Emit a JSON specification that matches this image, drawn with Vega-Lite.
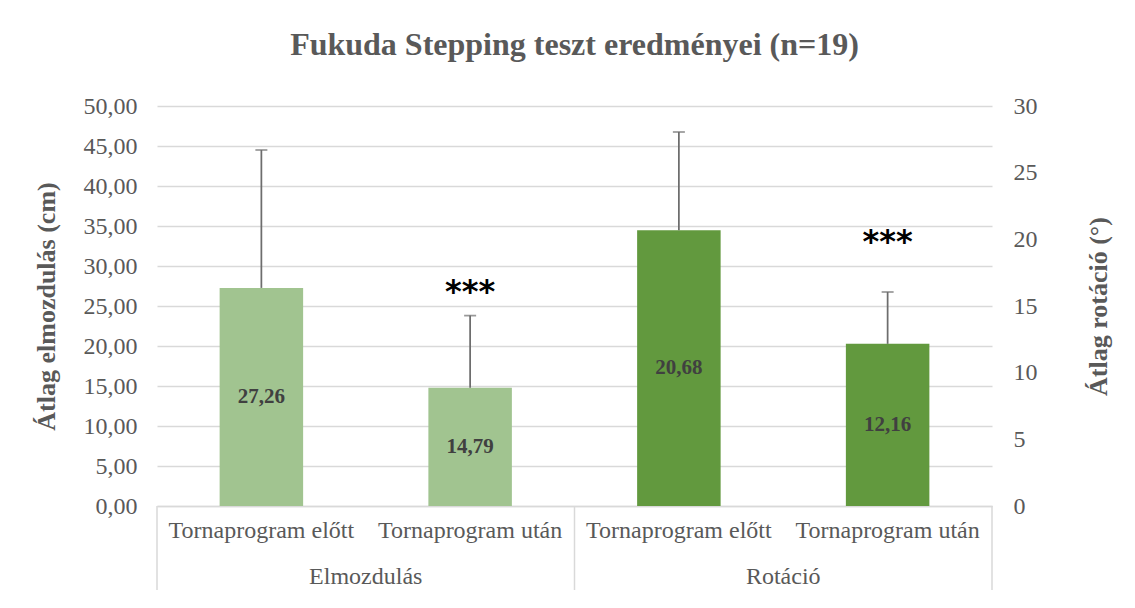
{
  "$schema": "https://vega.github.io/schema/vega-lite/v6.json",
  "width": 835,
  "height": 400,
  "autosize": {"type": "none"},
  "padding": {"left": 157, "top": 106, "right": 143, "bottom": 102},
  "background": "white",
  "title": {"text": "Fukuda Stepping teszt eredményei (n=19)", "font": "Liberation Serif", "fontSize": 32, "fontWeight": "bold", "color": "#595959", "offset": 4, "anchor": "middle"},
  "config": {
    "locale": {"number": {"decimal": ",", "thousands": " ", "grouping": [3], "currency": ["", " €"]}},
    "view": {"stroke": null},
    "axis": {"labelFont": "Liberation Serif", "labelFontSize": 24, "labelColor": "#595959", "labelLimit": 0, "titleFont": "Liberation Serif", "titleFontSize": 26, "titleFontWeight": "bold", "titleColor": "#595959", "ticks": false}
  },
  "datasets": {
    "bars": [
      {"group": "Elmozdulás", "cond": "Tornaprogram előtt", "key": "Elmozdulás|Tornaprogram előtt", "value": 27.26, "upper": 44.5, "sig": ""},
      {"group": "Elmozdulás", "cond": "Tornaprogram után", "key": "Elmozdulás|Tornaprogram után", "value": 14.79, "upper": 23.8, "sig": "***"},
      {"group": "Rotáció", "cond": "Tornaprogram előtt", "key": "Rotáció|Tornaprogram előtt", "value": 20.68, "upper": 28.05, "sig": ""},
      {"group": "Rotáció", "cond": "Tornaprogram után", "key": "Rotáció|Tornaprogram után", "value": 12.16, "upper": 16.05, "sig": "***"}
    ]
  },
  "layer": [
    {
      "data": {"name": "bars"},
      "transform": [{"filter": "datum.group === 'Elmozdulás'"}],
      "layer": [
        {
          "mark": {"type": "bar", "color": "#A1C490", "width": {"band": 0.4}},
          "encoding": {
            "x": {"field": "key", "type": "nominal", "scale": {"domain": ["Elmozdulás|Tornaprogram előtt", "Elmozdulás|Tornaprogram után", "Rotáció|Tornaprogram előtt", "Rotáció|Tornaprogram után"], "paddingInner": 0, "paddingOuter": 0},
              "axis": {"title": null, "labelExpr": "split(datum.value, '|')[1]", "domainColor": "#d9d9d9", "domainWidth": 1.5, "labelPadding": 12, "labelAngle": 0, "grid": false}},
            "y": {"field": "value", "type": "quantitative", "scale": {"domain": [0, 50], "nice": false},
              "axis": {"title": "Átlag elmozdulás (cm)", "orient": "left", "values": [0, 5, 10, 15, 20, 25, 30, 35, 40, 45, 50], "format": ".2f", "domain": false, "grid": true, "gridColor": "#d9d9d9", "gridWidth": 1.5, "labelPadding": 20, "titlePadding": 24}}
          }
        },
        {
          "mark": {"type": "rule", "color": "#6d6d6d", "strokeWidth": 1.75},
          "encoding": {
            "x": {"field": "key", "type": "nominal", "axis": {"title": null, "labelExpr": "split(datum.value, '|')[1]", "domainColor": "#d9d9d9", "domainWidth": 1.5, "labelPadding": 12, "labelAngle": 0, "grid": false}},
            "y": {"field": "value", "type": "quantitative", "axis": {"title": "Átlag elmozdulás (cm)", "orient": "left", "values": [0, 5, 10, 15, 20, 25, 30, 35, 40, 45, 50], "format": ".2f", "domain": false, "grid": true, "gridColor": "#d9d9d9", "gridWidth": 1.5, "labelPadding": 20, "titlePadding": 24}},
            "y2": {"field": "upper"}
          }
        },
        {
          "mark": {"type": "tick", "color": "#6d6d6d", "thickness": 1.75, "size": 12},
          "encoding": {
            "x": {"field": "key", "type": "nominal", "axis": {"title": null, "labelExpr": "split(datum.value, '|')[1]", "domainColor": "#d9d9d9", "domainWidth": 1.5, "labelPadding": 12, "labelAngle": 0, "grid": false}},
            "y": {"field": "upper", "type": "quantitative", "axis": {"title": "Átlag elmozdulás (cm)", "orient": "left", "values": [0, 5, 10, 15, 20, 25, 30, 35, 40, 45, 50], "format": ".2f", "domain": false, "grid": true, "gridColor": "#d9d9d9", "gridWidth": 1.5, "labelPadding": 20, "titlePadding": 24}}
          }
        },
        {
          "mark": {"type": "text", "font": "DejaVu Sans", "fontSize": 32, "fontWeight": "bold", "color": "black", "baseline": "alphabetic", "dy": -14},
          "encoding": {
            "x": {"field": "key", "type": "nominal", "axis": {"title": null, "labelExpr": "split(datum.value, '|')[1]", "domainColor": "#d9d9d9", "domainWidth": 1.5, "labelPadding": 12, "labelAngle": 0, "grid": false}},
            "y": {"field": "upper", "type": "quantitative", "axis": {"title": "Átlag elmozdulás (cm)", "orient": "left", "values": [0, 5, 10, 15, 20, 25, 30, 35, 40, 45, 50], "format": ".2f", "domain": false, "grid": true, "gridColor": "#d9d9d9", "gridWidth": 1.5, "labelPadding": 20, "titlePadding": 24}},
            "text": {"field": "sig"}
          }
        },
        {
          "data": {"values": [{"g": "Elmozdulás", "at": "Elmozdulás|Tornaprogram után"}]},
          "mark": {"type": "text", "font": "Liberation Serif", "fontSize": 24, "color": "#595959", "baseline": "middle", "dy": 71},
          "encoding": {
            "x": {"field": "at", "type": "nominal", "bandPosition": 0, "axis": {"title": null, "labelExpr": "split(datum.value, '|')[1]", "domainColor": "#d9d9d9", "domainWidth": 1.5, "labelPadding": 12, "labelAngle": 0, "grid": false}},
            "y": {"datum": 0, "type": "quantitative", "axis": {"title": "Átlag elmozdulás (cm)", "orient": "left", "values": [0, 5, 10, 15, 20, 25, 30, 35, 40, 45, 50], "format": ".2f", "domain": false, "grid": true, "gridColor": "#d9d9d9", "gridWidth": 1.5, "labelPadding": 20, "titlePadding": 24}},
            "text": {"field": "g"}
          }
        },
        {
          "data": {"values": [{"at": "Elmozdulás|Tornaprogram előtt"}, {"at": "Rotáció|Tornaprogram előtt"}]},
          "mark": {"type": "rule", "color": "#d9d9d9", "strokeWidth": 1.5, "y2Offset": 84},
          "encoding": {
            "x": {"field": "at", "type": "nominal", "bandPosition": 0, "axis": {"title": null, "labelExpr": "split(datum.value, '|')[1]", "domainColor": "#d9d9d9", "domainWidth": 1.5, "labelPadding": 12, "labelAngle": 0, "grid": false}},
            "y": {"datum": 0, "type": "quantitative", "axis": {"title": "Átlag elmozdulás (cm)", "orient": "left", "values": [0, 5, 10, 15, 20, 25, 30, 35, 40, 45, 50], "format": ".2f", "domain": false, "grid": true, "gridColor": "#d9d9d9", "gridWidth": 1.5, "labelPadding": 20, "titlePadding": 24}},
            "y2": {"datum": 0}
          }
        }
      ]
    },
    {
      "data": {"name": "bars"},
      "transform": [{"filter": "datum.group === 'Elmozdulás'"}],
      "mark": {"type": "text", "font": "Liberation Serif", "fontSize": 21, "fontWeight": "bold", "color": "#404040", "baseline": "middle"},
      "encoding": {
        "x": {"field": "key", "type": "nominal", "axis": {"title": null, "labelExpr": "split(datum.value, '|')[1]", "domainColor": "#d9d9d9", "domainWidth": 1.5, "labelPadding": 12, "labelAngle": 0, "grid": false}},
        "y": {"field": "value", "type": "quantitative", "scale": {"domain": [0, 100], "nice": false}, "axis": null},
        "text": {"field": "value", "type": "quantitative", "format": ".2f"}
      }
    },
    {
      "data": {"name": "bars"},
      "transform": [{"filter": "datum.group === 'Rotáció'"}],
      "layer": [
        {
          "mark": {"type": "bar", "color": "#62993E", "width": {"band": 0.4}},
          "encoding": {
            "x": {"field": "key", "type": "nominal", "axis": {"title": null, "labelExpr": "split(datum.value, '|')[1]", "domainColor": "#d9d9d9", "domainWidth": 1.5, "labelPadding": 12, "labelAngle": 0, "grid": false}},
            "y": {"field": "value", "type": "quantitative", "scale": {"domain": [0, 30], "nice": false},
              "axis": {"title": "Átlag rotáció (°)", "orient": "right", "values": [0, 5, 10, 15, 20, 25, 30], "format": "d", "domain": false, "grid": false, "labelPadding": 21, "titleAngle": 270, "titleBaseline": "top", "titlePadding": 48}}
          }
        },
        {
          "mark": {"type": "rule", "color": "#6d6d6d", "strokeWidth": 1.75},
          "encoding": {
            "x": {"field": "key", "type": "nominal", "axis": {"title": null, "labelExpr": "split(datum.value, '|')[1]", "domainColor": "#d9d9d9", "domainWidth": 1.5, "labelPadding": 12, "labelAngle": 0, "grid": false}},
            "y": {"field": "value", "type": "quantitative", "axis": {"title": "Átlag rotáció (°)", "orient": "right", "values": [0, 5, 10, 15, 20, 25, 30], "format": "d", "domain": false, "grid": false, "labelPadding": 21, "titleAngle": 270, "titleBaseline": "top", "titlePadding": 48}},
            "y2": {"field": "upper"}
          }
        },
        {
          "mark": {"type": "tick", "color": "#6d6d6d", "thickness": 1.75, "size": 12},
          "encoding": {
            "x": {"field": "key", "type": "nominal", "axis": {"title": null, "labelExpr": "split(datum.value, '|')[1]", "domainColor": "#d9d9d9", "domainWidth": 1.5, "labelPadding": 12, "labelAngle": 0, "grid": false}},
            "y": {"field": "upper", "type": "quantitative", "axis": {"title": "Átlag rotáció (°)", "orient": "right", "values": [0, 5, 10, 15, 20, 25, 30], "format": "d", "domain": false, "grid": false, "labelPadding": 21, "titleAngle": 270, "titleBaseline": "top", "titlePadding": 48}}
          }
        },
        {
          "mark": {"type": "text", "font": "DejaVu Sans", "fontSize": 32, "fontWeight": "bold", "color": "black", "baseline": "alphabetic", "dy": -40},
          "encoding": {
            "x": {"field": "key", "type": "nominal", "axis": {"title": null, "labelExpr": "split(datum.value, '|')[1]", "domainColor": "#d9d9d9", "domainWidth": 1.5, "labelPadding": 12, "labelAngle": 0, "grid": false}},
            "y": {"field": "upper", "type": "quantitative", "axis": {"title": "Átlag rotáció (°)", "orient": "right", "values": [0, 5, 10, 15, 20, 25, 30], "format": "d", "domain": false, "grid": false, "labelPadding": 21, "titleAngle": 270, "titleBaseline": "top", "titlePadding": 48}},
            "text": {"field": "sig"}
          }
        },
        {
          "data": {"values": [{"g": "Rotáció", "at": "Rotáció|Tornaprogram után"}]},
          "mark": {"type": "text", "font": "Liberation Serif", "fontSize": 24, "color": "#595959", "baseline": "middle", "dy": 71},
          "encoding": {
            "x": {"field": "at", "type": "nominal", "bandPosition": 0, "axis": {"title": null, "labelExpr": "split(datum.value, '|')[1]", "domainColor": "#d9d9d9", "domainWidth": 1.5, "labelPadding": 12, "labelAngle": 0, "grid": false}},
            "y": {"datum": 0, "type": "quantitative", "axis": {"title": "Átlag rotáció (°)", "orient": "right", "values": [0, 5, 10, 15, 20, 25, 30], "format": "d", "domain": false, "grid": false, "labelPadding": 21, "titleAngle": 270, "titleBaseline": "top", "titlePadding": 48}},
            "text": {"field": "g"}
          }
        },
        {
          "data": {"values": [{"at": "Rotáció|Tornaprogram után"}]},
          "mark": {"type": "rule", "color": "#d9d9d9", "strokeWidth": 1.5, "y2Offset": 84},
          "encoding": {
            "x": {"field": "at", "type": "nominal", "bandPosition": 1, "axis": {"title": null, "labelExpr": "split(datum.value, '|')[1]", "domainColor": "#d9d9d9", "domainWidth": 1.5, "labelPadding": 12, "labelAngle": 0, "grid": false}},
            "y": {"datum": 0, "type": "quantitative", "axis": {"title": "Átlag rotáció (°)", "orient": "right", "values": [0, 5, 10, 15, 20, 25, 30], "format": "d", "domain": false, "grid": false, "labelPadding": 21, "titleAngle": 270, "titleBaseline": "top", "titlePadding": 48}},
            "y2": {"datum": 0}
          }
        }
      ]
    },
    {
      "data": {"name": "bars"},
      "transform": [{"filter": "datum.group === 'Rotáció'"}],
      "mark": {"type": "text", "font": "Liberation Serif", "fontSize": 21, "fontWeight": "bold", "color": "#404040", "baseline": "middle"},
      "encoding": {
        "x": {"field": "key", "type": "nominal", "axis": {"title": null, "labelExpr": "split(datum.value, '|')[1]", "domainColor": "#d9d9d9", "domainWidth": 1.5, "labelPadding": 12, "labelAngle": 0, "grid": false}},
        "y": {"field": "value", "type": "quantitative", "scale": {"domain": [0, 60], "nice": false}, "axis": null},
        "text": {"field": "value", "type": "quantitative", "format": ".2f"}
      }
    }
  ],
  "resolve": {"scale": {"y": "independent"}}
}
